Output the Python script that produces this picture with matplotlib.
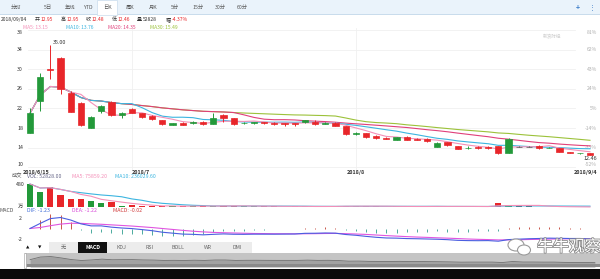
import matplotlib
matplotlib.use("Agg")
import matplotlib.pyplot as plt
import matplotlib.patheffects as pe
import matplotlib.transforms as mtransforms
from matplotlib.patches import Rectangle, Ellipse

plt.rcParams['font.family'] = ['Noto Sans CJK SC', 'DejaVu Sans']

W, H = 600, 279

# ---- daily candles, 2018/6/15 .. 2018/9/4 ----
opens = [16.9, 23.6, 30.1, 32.2, 25.1, 23.2, 18.1, 21.5, 23.4, 20.7,
         21.9, 21.0, 20.5, 19.6, 18.7, 19.1, 19.0, 19.3, 18.9, 20.6,
         20.0, 19.0, 19.0, 19.2, 19.1, 19.0, 19.0, 19.2, 19.3, 18.9,
         19.1, 18.5, 16.8, 16.9, 16.4, 16.0, 15.6, 16.2, 15.8, 15.8,
         14.2, 15.1, 14.3, 13.9, 14.1, 14.1, 14.3, 13.0, 14.2, 14.2,
         14.4, 13.9, 13.9, 13.1, 12.8, 12.95]
closes = [21.0, 28.5, 29.9, 26.0, 21.3, 18.6, 20.2, 22.5, 20.7, 21.0,
          21.1, 20.2, 19.8, 18.8, 19.0, 18.7, 19.3, 18.8, 20.0, 20.0,
          18.8, 19.1, 19.2, 19.0, 18.9, 18.9, 18.9, 19.6, 18.9, 19.1,
          18.5, 16.7, 16.9, 16.1, 15.9, 15.8, 16.1, 15.6, 15.6, 15.3,
          15.0, 14.5, 13.8, 14.0, 14.0, 14.0, 12.8, 15.7, 14.2, 14.2,
          13.9, 13.95, 13.2, 12.9, 12.95, 12.48]
highs = [22.0, 29.2, 35.0, 32.4, 25.6, 23.4, 20.5, 22.7, 23.6, 21.3,
         22.0, 21.1, 20.6, 19.7, 19.1, 19.2, 19.4, 19.4, 21.0, 20.8,
         20.1, 19.3, 19.3, 19.3, 19.2, 19.1, 19.1, 19.7, 19.6, 19.2,
         19.2, 18.5, 17.2, 17.0, 16.5, 16.1, 16.2, 16.3, 15.9, 15.9,
         15.1, 15.2, 14.4, 14.3, 14.3, 14.3, 14.4, 15.9, 14.3, 14.3,
         14.5, 14.1, 14.0, 13.15, 13.0, 12.95]
lows = [16.9, 21.5, 28.0, 24.9, 21.2, 18.5, 18.0, 21.1, 20.5, 20.0,
        21.0, 20.1, 19.7, 18.7, 18.6, 18.6, 18.9, 18.7, 18.8, 19.3,
        18.7, 18.9, 18.9, 18.8, 18.7, 18.5, 18.5, 19.1, 18.7, 18.8,
        18.4, 16.6, 16.5, 16.0, 15.8, 15.7, 15.5, 15.5, 15.5, 15.2,
        14.1, 14.4, 13.7, 13.8, 13.8, 13.8, 12.7, 12.9, 14.1, 14.1,
        13.8, 13.85, 13.1, 12.85, 12.75, 12.46]
# volume, in 10k shares
volumes = [490, 320, 425, 265, 165, 175, 130, 100, 115, 25,
           40, 25, 20, 35, 20, 18, 25, 30, 35, 25,
           30, 22, 20, 25, 18, 15, 18, 20, 15, 18,
           20, 35, 25, 20, 18, 15, 20, 18, 15, 18,
           22, 18, 20, 15, 14, 15, 85, 55, 25, 18,
           15, 10, 11, 6, 5.5, 5.28]

ma5 = [21.0, 24.75, 26.47, 26.35, 25.34, 24.86, 23.2, 21.72, 20.66, 20.6,
       21.1, 21.1, 20.56, 20.18, 19.78, 19.3, 19.12, 18.92, 19.16, 19.36,
       19.38, 19.34, 19.42, 19.22, 19.0, 19.02, 18.98, 19.06, 19.04, 19.08,
       19.0, 18.56, 18.02, 17.46, 16.82, 16.28, 16.16, 15.9, 15.8, 15.68,
       15.52, 15.2, 14.84, 14.52, 14.26, 14.06, 13.72, 14.1, 14.14, 14.18,
       14.16, 14.39, 13.89, 13.63, 13.38, 13.15]
ma10 = [21.0, 24.75, 26.47, 26.35, 25.34, 24.22, 23.64, 23.5, 23.19, 22.97,
        22.98, 22.15, 21.14, 20.42, 20.19, 20.2, 20.11, 19.74, 19.67, 19.57,
        19.34, 19.23, 19.17, 19.19, 19.18, 19.2, 19.16, 19.24, 19.13, 19.04,
        19.01, 18.77, 18.54, 18.25, 17.95, 17.64, 17.36, 16.96, 16.63, 16.25,
        15.9, 15.68, 15.37, 15.16, 14.97, 14.79, 14.46, 14.47, 14.33, 14.22,
        14.11, 14.06, 13.99, 13.89, 13.8, 13.76]
ma20 = [21.0, 24.75, 26.47, 26.35, 25.34, 24.22, 23.64, 23.5, 23.19, 22.97,
        22.8, 22.58, 22.37, 22.11, 21.91, 21.71, 21.56, 21.41, 21.34, 21.27,
        21.16, 20.69, 20.16, 19.8, 19.69, 19.7, 19.64, 19.49, 19.4, 19.31,
        19.18, 19.0, 18.86, 18.72, 18.57, 18.42, 18.26, 18.1, 17.88, 17.65,
        17.46, 17.23, 16.96, 16.71, 16.46, 16.22, 15.91, 15.72, 15.48, 15.24,
        15.02, 14.9, 14.72, 14.58, 14.45, 14.35]
ma30 = [21.0, 24.75, 26.47, 26.35, 25.34, 24.22, 23.64, 23.5, 23.19, 22.97,
        22.8, 22.58, 22.37, 22.11, 21.91, 21.71, 21.56, 21.41, 21.34, 21.27,
        21.15, 21.06, 20.98, 20.9, 20.82, 20.74, 20.67, 20.64, 20.58, 20.53,
        20.44, 20.05, 19.62, 19.29, 19.11, 19.01, 18.88, 18.65, 18.48, 18.29,
        18.08, 17.89, 17.69, 17.53, 17.37, 17.21, 16.99, 16.89, 16.7, 16.52,
        16.37, 16.22, 16.04, 15.86, 15.68, 15.49]
vol_ma5 = [490, 405, 411.7, 375, 333, 270, 232, 167, 137, 109,
           82, 61, 45, 29, 28, 23.6, 23.6, 25.6, 25.6, 26.6,
           29, 28.4, 26.4, 24.4, 23, 20, 19.2, 19.2, 17.2, 17.2,
           18.2, 21.6, 22.6, 23.6, 23.6, 22.6, 19.6, 18.2, 17.2, 17.2,
           18.6, 18.2, 18.6, 18.6, 17.8, 16.4, 29.8, 36.8, 38.8, 39.6,
           39.6, 24.6, 15.8, 12, 9.5, 7.59]
vol_ma10 = [490, 405, 411.7, 375, 333, 306.7, 281.4, 258.8, 242.8, 221,
            176, 146.5, 106, 83, 68.5, 52.8, 42.3, 35.3, 27.3, 27.3,
            26.3, 26, 26, 25, 24.8, 24.5, 23.8, 22.8, 20.8, 20.1,
            19.1, 20.4, 20.9, 20.4, 20.4, 20.4, 20.6, 20.4, 20.4, 20.4,
            20.6, 18.9, 18.4, 17.9, 17.5, 17.5, 24, 27.7, 28.7, 28.7,
            28, 27.2, 26.3, 25.4, 24.55, 23.6]
dif = [0, 0.6, 1.17, 1.3, 1.0, 0.55, 0.31, 0.31, 0.16, 0.06,
       -0.01, -0.13, -0.26, -0.44, -0.55, -0.66, -0.69, -0.75, -0.69, -0.64,
       -0.68, -0.69, -0.67, -0.67, -0.67, -0.66, -0.65, -0.57, -0.56, -0.53,
       -0.55, -0.71, -0.8, -0.93, -1.04, -1.12, -1.14, -1.19, -1.21, -1.24,
       -1.27, -1.32, -1.4, -1.43, -1.44, -1.43, -1.5, -1.31, -1.26, -1.21,
       -1.18, -1.14, -1.16, -1.18, -1.18, -1.23]
dea = [0, 0.12, 0.33, 0.52, 0.62, 0.61, 0.55, 0.5, 0.43, 0.36,
       0.29, 0.2, 0.11, 0.0, -0.11, -0.22, -0.32, -0.4, -0.46, -0.5,
       -0.53, -0.56, -0.59, -0.6, -0.62, -0.62, -0.63, -0.62, -0.61, -0.59,
       -0.58, -0.61, -0.65, -0.7, -0.77, -0.84, -0.9, -0.96, -1.01, -1.05,
       -1.1, -1.14, -1.19, -1.24, -1.28, -1.31, -1.35, -1.34, -1.33, -1.3,
       -1.28, -1.25, -1.23, -1.22, -1.21, -1.22]
macd_hist = [0, 0.96, 1.68, 1.56, 0.76, -0.12, -0.48, -0.38, -0.54, -0.6,
             -0.6, -0.66, -0.74, -0.88, -0.88, -0.88, -0.74, -0.7, -0.46, -0.28,
             -0.3, -0.26, -0.16, -0.14, -0.1, -0.08, -0.04, 0.1, 0.1, 0.12,
             0.06, -0.2, -0.3, -0.46, -0.54, -0.56, -0.48, -0.46, -0.4, -0.38,
             -0.34, -0.36, -0.42, -0.38, -0.32, -0.24, -0.3, 0.06, 0.14, 0.18,
             0.2, 0.22, 0.14, 0.08, 0.06, -0.02]

price_ticks = [38, 34, 30, 26, 22, 18, 14, 10]
pct_labels = ['81%', '62%', '43%', '24%', '5%', '-14%', '-33%', '-52%']
month_idx = [10, 32]
date_labels = ['2018/6/15', '2018/7', '2018/8', '2018/9/4']
tabs = ['分时', '5日', '年线', 'YTD', '日K', '周K', '月K', '5分', '15分', '30分', '60分']
tab_x = [16, 48, 70, 88, 107, 130, 153, 175, 198, 220, 242]
buttons = ['无', 'MACD', 'KDJ', 'RSI', 'BOLL', 'WR', 'DMI']

RED = '#e8262a'
GREEN = '#23993a'
C_MA5, C_MA10, C_MA20, C_MA30 = '#f48fb8', '#3cb5e0', '#e0407a', '#9cc23a'

fig = plt.figure(figsize=(W / 100, H / 100), dpi=100)
fig.patch.set_facecolor('white')


def px_axes(x0, y0, x1, y1):
    ax = fig.add_axes([x0 / W, 1 - y1 / H, (x1 - x0) / W, (y1 - y0) / H])
    ax.set_axis_off()
    return ax


def ptext(x, y, s, **kw):
    kw.setdefault('fontsize', 3.9)
    kw.setdefault('va', 'center')
    return fig.text(x / W, 1 - y / H, s, **kw)


step = 560 / 55.0
xlim = ((0 - 30) / step, (600 - 30) / step)
n = len(closes)
idx = list(range(n))
colors = []
for o, c in zip(opens, closes):
    colors.append(GREEN if c > o else (RED if c < o else '#555555'))

# ---- top tab bar ----
fig.patches.append(Rectangle((0, 1 - 14 / H), 1, 14 / H, transform=fig.transFigure,
                             facecolor='#eaf3fb', edgecolor='none', zorder=0))
fig.patches.append(Rectangle((0, 1 - 14.5 / H), 1, 0.6 / H, transform=fig.transFigure,
                             facecolor='#c9dcec', edgecolor='none', zorder=1))
fig.patches.append(Rectangle((97 / W, 1 - 15 / H), 20 / W, 15 / H, transform=fig.transFigure,
                             facecolor='white', edgecolor='#c9dcec', linewidth=0.5, zorder=2))
for t, x in zip(tabs, tab_x):
    ptext(x, 7.5, t, ha='center', color='#555555', fontsize=3.8, zorder=3)
ptext(592, 7.5, '⋮', ha='center', color='#3a7bc8', fontsize=5)
ptext(578, 7.5, '+', ha='center', color='#3a7bc8', fontsize=5, fontweight='bold')

# ---- info lines ----
info = [('2018/09/04', 1, '#333333'), ('开', 34.5, '#333333'), ('12.95', 40.5, RED),
        ('高', 60.5, '#333333'), ('12.95', 66.5, RED), ('收', 85.5, '#333333'),
        ('12.48', 91.5, RED), ('低', 111.5, '#333333'), ('12.46', 117.5, RED),
        ('量', 136.5, '#333333'), ('52828', 142.5, '#333333'), ('幅', 165.5, '#333333'),
        ('-4.37%', 172, RED)]
for s, x, c in info:
    ptext(x, 19.5, s, color=c, fontsize=3.6)
for s, x, c in [('MA5: 13.15', 23, C_MA5), ('MA10: 13.76', 66, C_MA10),
                ('MA20: 14.35', 108, C_MA20), ('MA30: 15.49', 150, C_MA30)]:
    ptext(x, 27.5, s, color=c, fontsize=3.6)

# ---- price panel ----
ax = px_axes(0, 28, 600, 170)
ax.set_xlim(*xlim)
ax.set_ylim(38 - (170 - 30) / 4.9, 38 + 2 / 4.9)
yax = mtransforms.blended_transform_factory(ax.transAxes, ax.transData)
for i, p in enumerate(price_ticks):
    ax.axhline(p, xmin=28 / 600, xmax=575 / 600, color='#f0f0f0', linewidth=0.6, zorder=0)
    va = 'top' if i == 0 else ('bottom' if i == len(price_ticks) - 1 else 'center')
    ax.text(20 / 600, p, str(p), transform=yax, ha='center', va=va, fontsize=3.8, color='#333333')
    ax.text(597 / 600, p, pct_labels[i], transform=yax, ha='right', va=va, fontsize=3.6,
            color='#b0b0b0', zorder=0)
for m in month_idx:
    ax.axvline(m, color='#f0f0f0', linewidth=0.6, zorder=0)

for ma, c in [(ma30, C_MA30), (ma20, C_MA20), (ma10, C_MA10), (ma5, C_MA5)]:
    ax.plot(idx, ma, color=c, linewidth=0.8, zorder=2)

ax.vlines(idx, lows, highs, colors=colors, linewidth=0.7, zorder=3)
body_lo = [min(o, c) for o, c in zip(opens, closes)]
body_h = [max(abs(c - o), 0.02) for o, c in zip(opens, closes)]
ax.bar(idx, body_h, bottom=body_lo, width=0.6, color=colors, edgecolor=colors,
       linewidth=0.5, zorder=4)

top_i = highs.index(max(highs))
ax.annotate('%.2f' % highs[top_i], xy=(top_i, highs[top_i]), xytext=(3, 2),
            textcoords='offset pixels', ha='left', va='center', fontsize=3.9, color='#333333')
low_i = n - 1
ax.annotate('%.2f' % lows[low_i], xy=(low_i, lows[low_i]), xytext=(0, -1),
            textcoords='offset pixels', ha='center', va='top', fontsize=3.9, color='#333333',
            zorder=6)
ax.text(552 / 600, 36.7, '新浪财经', transform=yax, ha='center', va='center',
        fontsize=3.3, color='#cfcfcf')

# date labels
dx = mtransforms.blended_transform_factory(ax.transData, fig.transFigure)
ptext(23, 172.5, date_labels[0], ha='left', color='#333333', fontweight='bold')
ax.text(month_idx[0], 1 - 172.5 / H, date_labels[1], transform=dx, ha='left', va='center',
        fontsize=3.9, color='#333333', fontweight='bold')
ax.text(month_idx[1], 1 - 172.5 / H, date_labels[2], transform=dx, ha='center', va='center',
        fontsize=3.9, color='#333333', fontweight='bold')
ptext(597, 172.5, date_labels[3], ha='right', color='#333333', fontweight='bold')

# ---- volume panel ----
ptext(12, 176, '成交', color='#555555', fontsize=3.8)
ptext(27, 176, 'VOL: 52828.00', color='#666688', fontsize=3.8)
ptext(72, 176, 'MA5: 75859.20', color=C_MA5, fontsize=3.8)
ptext(115, 176, 'MA10: 236029.60', color=C_MA10, fontsize=3.8)
ptext(20, 185, '480', ha='center', color='#333333', fontsize=3.8)
ptext(20, 206.5, '万', ha='center', color='#333333', fontsize=3.8)
axv = px_axes(0, 183, 600, 208)
axv.set_xlim(*xlim)
axv.set_ylim(-15, 510)
axv.bar(idx, volumes, width=0.6, color=colors, zorder=2)
axv.plot(idx, vol_ma10, color=C_MA10, linewidth=0.8, zorder=3)
axv.plot(idx, vol_ma5, color=C_MA5, linewidth=0.8, zorder=3)

# ---- MACD panel ----
ptext(0, 211, 'MACD', color='#555555', fontsize=3.8)
ptext(27, 211, 'DIF: -1.23', color='#3b6ad6', fontsize=3.8)
ptext(72, 211, 'DEA: -1.22', color='#d84ad8', fontsize=3.8)
ptext(113, 211, 'MACD: -0.02', color='#d03a3a', fontsize=3.8)
ptext(20, 218.5, '2', ha='center', color='#333333', fontsize=3.8)
ptext(20, 239.5, '-2', ha='center', color='#333333', fontsize=3.8)
axm = px_axes(0, 212, 600, 245)
axm.set_xlim(*xlim)
axm.set_ylim(-1.95, 1.95)
hcol = ['#c0392b' if h >= 0 else '#2f9e8f' for h in macd_hist]
axm.vlines(idx, 0, macd_hist, colors=hcol, linewidth=0.6, zorder=2)
axm.plot(idx, dea, color='#e055e0', linewidth=0.8, zorder=3)
axm.plot(idx, dif, color='#4a5ee0', linewidth=0.8, zorder=4)

# ---- indicator buttons ----
ptext(28, 247.5, '▲', ha='center', color='#111111', fontsize=3.2, family='DejaVu Sans')
ptext(40, 247.5, '▼', ha='center', color='#111111', fontsize=3.2, family='DejaVu Sans')
fig.patches.append(Rectangle((49 / W, 1 - 253 / H), 203 / W, 11 / H, transform=fig.transFigure,
                             facecolor='#ececec', edgecolor='none', zorder=0))
btn_x = [(49, 78), (78, 107), (107, 135), (135, 164), (164, 193), (193, 222), (222, 252)]
for b, (x0, x1) in zip(buttons, btn_x):
    sel = b == 'MACD'
    if sel:
        fig.patches.append(Rectangle((x0 / W, 1 - 253 / H), (x1 - x0) / W, 11 / H,
                                     transform=fig.transFigure, facecolor='#111111',
                                     edgecolor='none', zorder=1))
    ptext((x0 + x1) / 2, 247.5, b, ha='center', color='white' if sel else '#666666',
          fontsize=3.8, fontweight='bold' if sel else 'normal', zorder=2)

# ---- navigator ----
axn = px_axes(25, 253, 600, 267)
axn.set_xlim(-0.5, n - 0.5)
axn.set_ylim(0, 40)
axn.add_patch(Rectangle((0, 0), 1, 1, transform=axn.transAxes, facecolor='#c4c4c4',
                        edgecolor='none', zorder=0))
axn.fill_between(idx, 0, closes, color='#a2a2a2', linewidth=0, zorder=1)
axn.plot(idx, closes, color='#707070', linewidth=0.6, zorder=2)
axn.add_patch(Rectangle((0, 0), 1, 0.18, transform=axn.transAxes, facecolor='#8a8a8a',
                        edgecolor='none', zorder=2))
fig.patches.append(Rectangle((24 / W, 1 - 268 / H), 2 / W, 15 / H, transform=fig.transFigure,
                             facecolor='white', edgecolor='#999999', linewidth=0.4, zorder=5))
fig.patches.append(Rectangle((0, 0), 1, 10 / H, transform=fig.transFigure,
                             facecolor='#0a0a0a', edgecolor='none', zorder=5))

# ---- watermark ----
axw = px_axes(505, 236, 535, 258)
axw.set_xlim(0, 30)
axw.set_ylim(22, 0)
for (cx, cy, w, h) in [(11, 9, 16, 12), (19, 14, 13, 10)]:
    axw.add_patch(Ellipse((cx, cy), w, h, facecolor='white', edgecolor='#9a9a9a',
                          linewidth=0.8))
ptext(537, 247, '牛牛观察', color='white', fontsize=11.5,
      path_effects=[pe.withStroke(linewidth=1.2, foreground='#8a8a8a')], zorder=6)

fig.savefig('out.png', dpi=100, facecolor='white')
